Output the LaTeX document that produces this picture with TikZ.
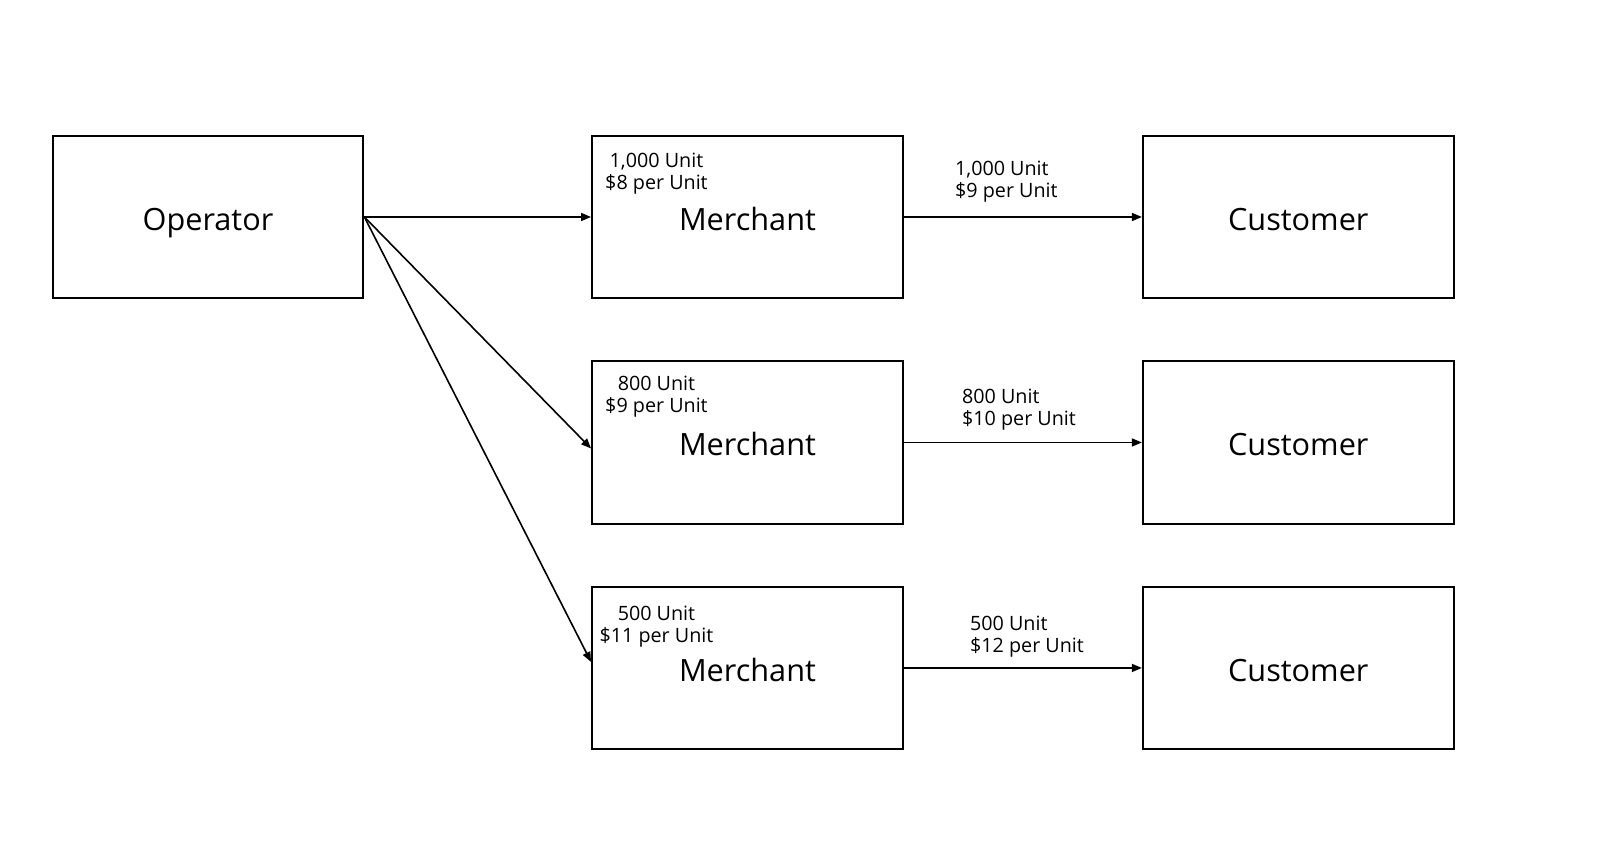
\documentclass[tikz,border=0pt]{standalone}
\usepackage{fontspec}
\setmainfont{Open Sans}
\usetikzlibrary{positioning,arrows.meta}

\tikzset{
  box/.style={draw, line width=1.6pt, minimum width=233pt, minimum height=122pt,
    inner sep=0pt, text height=19.8pt, text depth=0pt, font=\fontsize{23}{27}\selectfont},
  note/.style={inner sep=0pt, font=\fontsize{14.8}{16.5}\selectfont},
  flow/.style={-{Triangle[length=7.5pt,width=6pt]}, line width=1.2pt},
}

\begin{document}
\begin{tikzpicture}[x=0.75pt, y=-0.75pt]
    \useasboundingbox (0,0) rectangle (1612,846);
    \node[box] (op) at (208,217) {Operator};
    \node[box, right=170pt of op] (m1) {Merchant};
    \node[box, below=45.5pt of m1] (m2) {Merchant};
    \node[box, below=45.5pt of m2] (m3) {Merchant};
    \node[box, right=178.5pt of m1] (c1) {Customer};
    \node[box, right=178.5pt of m2] (c2) {Customer};
    \node[box, right=178.5pt of m3] (c3) {Customer};

    % prices paid to the operator
    \node[note, align=center, anchor=north] (p1) at ([xshift=-68.25pt, yshift=-13.5pt]m1.north) {1,000 Unit\\\$8 per Unit};
    \node[note, align=center, anchor=north] (p2) at ([xshift=-68.25pt, yshift=-12pt]m2.north) {800 Unit\\\$9 per Unit};
    \node[note, align=center, anchor=north] (p3) at ([xshift=-68.25pt, yshift=-15pt]m3.north) {500 Unit\\\$11 per Unit};

    % prices paid by the customers
    \node[note, align=left, anchor=north west] (q1) at ([xshift=38.25pt, yshift=42pt]m1.east) {1,000 Unit\\\$9 per Unit};
    \node[note, align=left, anchor=north west] (q2) at ([xshift=43.5pt, yshift=40pt]m2.east) {800 Unit\\\$10 per Unit};
    \node[note, align=left, anchor=north west] (q3) at ([xshift=49.5pt, yshift=39pt]m3.east) {500 Unit\\\$12 per Unit};

    \draw[flow] (op.east) -- (m1.west);
    \draw[flow] (op.east) -- ([yshift=-4.5pt]m2.west);
    \draw[flow] (op.east) -- ([yshift=4.5pt]m3.west);
    \draw[flow] (m1.east) -- (c1.west);
    \draw[flow] (m2.east) -- (c2.west);
    \draw[flow] (m3.east) -- (c3.west);
\end{tikzpicture}
\end{document}
